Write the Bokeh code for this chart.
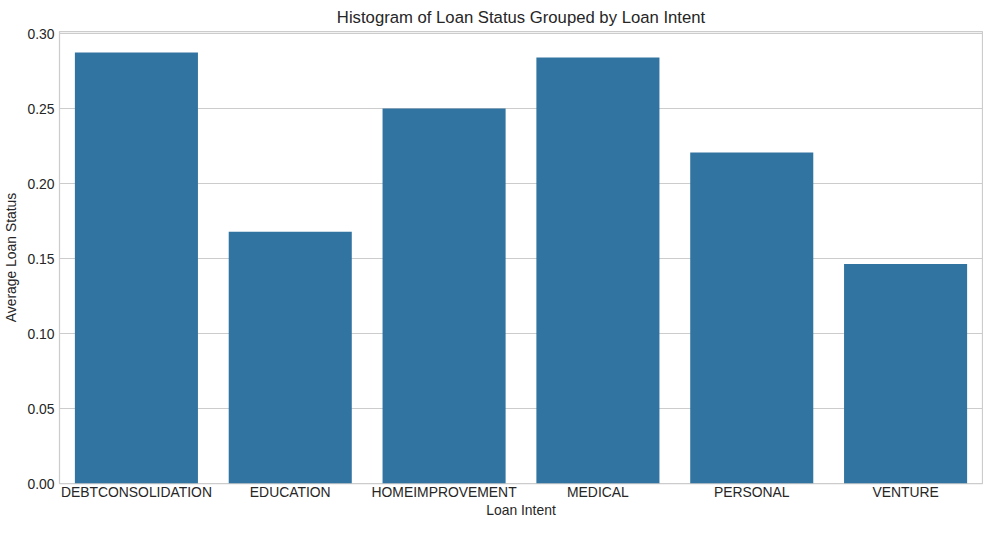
from bokeh.plotting import figure
from bokeh.models import Range1d, FactorRange, FixedTicker, NumeralTickFormatter, ColumnDataSource
from bokeh.embed import file_html
from bokeh.resources import INLINE

categories = ["DEBTCONSOLIDATION", "EDUCATION", "HOMEIMPROVEMENT", "MEDICAL", "PERSONAL", "VENTURE"]
avg_status = [0.2876, 0.1680, 0.2503, 0.2843, 0.2209, 0.1464]
y_ticks = [0.0, 0.05, 0.10, 0.15, 0.20, 0.25, 0.30]

FONT = "Liberation Sans"
TXT = "#262626"

src = ColumnDataSource(dict(cat=categories, val=avg_status))

p = figure(width=983, height=520, output_backend="svg", toolbar_location=None,
           x_range=FactorRange(factors=categories), y_range=Range1d(0, 0.3016),
           title="Histogram of Loan Status Grouped by Loan Intent",
           min_border_left=52, min_border_right=1, min_border_top=23, min_border_bottom=0)

p.vbar(x="cat", top="val", width=0.8, source=src, color="#3274a1", line_color=None)

p.title.align = "center"
p.title.text_font = FONT
p.title.text_font_size = "16.7px"
p.title.text_font_style = "normal"
p.title.text_color = TXT

p.outline_line_color = "#cccccc"
p.outline_line_width = 1.25

p.xgrid.visible = False
p.ygrid.grid_line_color = "#cccccc"
p.ygrid.grid_line_width = 1.2

p.yaxis.ticker = FixedTicker(ticks=y_ticks)
p.yaxis.formatter = NumeralTickFormatter(format="0.00")

for ax in (p.xaxis[0], p.yaxis[0]):
    ax.axis_line_color = None
    ax.major_tick_line_color = None
    ax.minor_tick_line_color = None
    ax.major_tick_out = 0
    ax.major_tick_in = 0
    ax.major_label_text_font = FONT
    ax.major_label_text_font_size = "13.9px"
    ax.major_label_text_color = TXT
    ax.axis_label_text_font = FONT
    ax.axis_label_text_font_size = "13.9px"
    ax.axis_label_text_font_style = "normal"
    ax.axis_label_text_color = TXT

p.xaxis.axis_label = "Loan Intent"
p.yaxis.axis_label = "Average Loan Status"
p.xaxis.major_label_standoff = 0
p.yaxis.major_label_standoff = 5
p.xaxis.axis_label_standoff = -1
p.yaxis.axis_label_standoff = 5

p.background_fill_color = "white"
p.border_fill_color = "white"

open("out.html", "w").write(file_html(p, INLINE))
